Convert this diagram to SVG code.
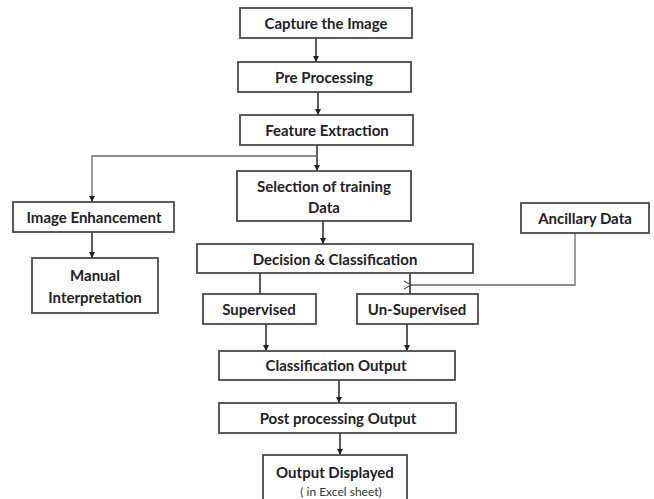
<svg xmlns="http://www.w3.org/2000/svg" width="654" height="499" viewBox="0 0 654 499">
<style>
.box{fill:#fff;stroke:#4a4a4a;stroke-width:1.8}
.t{font-family:Lato,"Liberation Sans",sans-serif;font-weight:bold;font-size:15px;fill:#222;text-anchor:middle}
.s{font-family:Lato,"Liberation Sans",sans-serif;font-size:12px;fill:#333;text-anchor:middle}
.c{fill:none;stroke:#333;stroke-width:1.6}
.g{fill:none;stroke:#6a6a6a;stroke-width:1.3}
</style>
<defs>
<marker id="a" markerWidth="8" markerHeight="8" refX="7" refY="4" orient="auto" markerUnits="userSpaceOnUse">
<path d="M1,1 L7,4 L1,7 Z" fill="#222"/>
</marker>
<marker id="o" markerWidth="10" markerHeight="10" refX="1" refY="5" orient="auto" markerUnits="userSpaceOnUse">
<path d="M8,1 L1,5 L8,9" fill="none" stroke="#555" stroke-width="1.2"/>
</marker>
</defs>
<g id="connectors">
<line class="c" x1="316" y1="38" x2="316" y2="62" marker-end="url(#a)"/>
<line class="c" x1="318" y1="92" x2="318" y2="115" marker-end="url(#a)"/>
<line class="c" x1="317" y1="145" x2="317" y2="171" marker-end="url(#a)"/>
<polyline class="g" points="317,156 92,156 92,202" marker-end="url(#a)"/>
<line class="c" x1="323" y1="221" x2="323" y2="244" marker-end="url(#a)"/>
<line class="c" x1="92" y1="232" x2="92" y2="258" marker-end="url(#a)"/>
<line class="c" x1="260" y1="273" x2="260" y2="294"/>
<line class="c" x1="410" y1="273" x2="410" y2="294"/>
<polyline class="g" points="575,233 575,285 411,285" marker-end="url(#o)"/>
<line class="c" x1="266" y1="324" x2="266" y2="351" marker-end="url(#a)"/>
<line class="c" x1="407" y1="324" x2="407" y2="351" marker-end="url(#a)"/>
<line class="c" x1="339" y1="380" x2="339" y2="403" marker-end="url(#a)"/>
<line class="c" x1="340" y1="433" x2="340" y2="455" marker-end="url(#a)"/>
</g>
<g id="capture"><rect class="box" x="240" y="8" width="172" height="30"/><text class="t" x="326" y="29">Capture the Image</text></g>
<g id="preprocessing"><rect class="box" x="238" y="62" width="173" height="30"/><text class="t" x="324" y="83">Pre Processing</text></g>
<g id="feature"><rect class="box" x="240" y="115" width="173" height="30"/><text class="t" x="327" y="136">Feature Extraction</text></g>
<g id="selection"><rect class="box" x="237" y="171" width="174" height="50"/><text class="t" x="324" y="192">Selection of training</text><text class="t" x="324" y="213">Data</text></g>
<g id="enhancement"><rect class="box" x="13" y="202" width="161" height="30"/><text class="t" x="94" y="223">Image Enhancement</text></g>
<g id="manual"><rect class="box" x="32" y="258" width="126" height="55"/><text class="t" x="95" y="281">Manual</text><text class="t" x="95" y="303">Interpretation</text></g>
<g id="ancillary"><rect class="box" x="521" y="203" width="128" height="30"/><text class="t" x="585" y="224">Ancillary Data</text></g>
<g id="decision"><rect class="box" x="197" y="244" width="276" height="29"/><text class="t" x="335" y="265">Decision &amp; Classification</text></g>
<g id="supervised"><rect class="box" x="203" y="294" width="113" height="30"/><text class="t" x="259" y="315">Supervised</text></g>
<g id="unsupervised"><rect class="box" x="357" y="294" width="121" height="30"/><text class="t" x="417" y="315">Un-Supervised</text></g>
<g id="classification"><rect class="box" x="219" y="351" width="236" height="29"/><text class="t" x="336" y="371">Classification Output</text></g>
<g id="post"><rect class="box" x="219" y="403" width="237" height="30"/><text class="t" x="338" y="424">Post processing Output</text></g>
<g id="output"><rect class="box" x="263" y="455" width="144" height="52"/><text class="t" x="335" y="478">Output Displayed</text><text class="s" x="341" y="496">( in Excel sheet)</text></g>
</svg>
